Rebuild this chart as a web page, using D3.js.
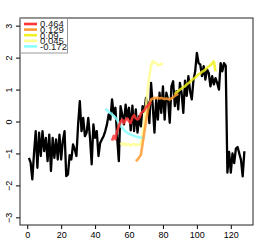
<!DOCTYPE html>
<html>
<head>
<meta charset="utf-8">
<script src="https://cdn.jsdelivr.net/npm/d3@7"></script>
<style>
  body { margin: 0; background: #fff; }
  svg text { font-family: "Liberation Sans", Arial, sans-serif; }
</style>
</head>
<body>
<div id="chart"></div>
<script>
// main series, index 1..128
const mainValues = [
  -1.14, -1.29, -1.81, -1.0, -0.3, -1.45, -0.35, -1.08, -0.3, -0.93,
  -0.51, -1.24, -0.41, -1.55, -0.51, -1.14, -0.56, -1.19, -0.41, -1.19,
  -0.6, -0.3, -1.71, -1.66, -1.05, -1.19, -0.72, -0.87, -1.08, -0.09,
  0.64, -0.3, 0.11, -0.46, -0.35, 0.11, -0.51, -1.34, -0.09, -0.51,
  -0.3, -1.08, -0.67, -0.56, -0.46, -0.3, -0.09, 0.22, 0.06, 0.69,
  0.22, 0.43, -0.51, -1.24, 0.48, 0.22, -0.09, 0.53, 0.11, 0.43,
  -0.28, 0.5, -0.3, 0.38, -0.35, 0.17, -0.15, 0.48, 0.3, 0.74,
  0.6, -0.05, 1.21, 0.48, -0.35, 0.69, 0.06, 0.9, 0.27, 1.1,
  0.06, 0.9, 0.69, -0.04, 1.1, 1.26, 0.48, 0.95, 0.38, 1.21,
  0.9, 0.27, 1.28, 0.8, 1.42, 0.95, 0.69, 1.3, 1.57, 2.15,
  1.83, 1.78, 1.42, 1.73, 1.31, 1.63, 1.52, 1.1, 1.42, 1.16,
  1.36, 1.2, 1.0, 1.83, 1.57, 1.83, 1.75, -1.6, -0.95, -1.6,
  -1.0, -1.3, -0.85, -0.8, -1.0, -1.2, -1.72, -0.93
];

// coloured fits: start index + values
const redStart = 50;
const redValues = [-0.6, -0.45, -0.55, -0.3, -0.15, 0.0, 0.06, -0.05, 0.05, 0.1,
  0.0, -0.05, 0.12, 0.2, 0.1, 0.06, 0.1, 0.25, 0.3, 0.35, 0.45, 0.5, 0.55, 0.6];

const orangeStart = 64;
const orangeValues = [-1.24, -1.2, -1.12, -1.05, -0.7, -0.35, 0.0, 0.32, 0.55, 0.69,
  0.72, 0.74, 0.73, 0.75, 0.72, 0.74, 0.72, 0.7, 0.72, 0.7, 0.69, 0.72, 0.76, 0.8, 0.83, 0.87];

const yellowStart = 87;
const yellowValues = [0.84, 0.92, 0.95, 1.0, 1.03, 1.08, 1.1, 1.16, 1.2, 1.24,
  1.3, 1.34, 1.38, 1.42, 1.48, 1.5, 1.56, 1.58, 1.63, 1.68, 1.72, 1.76, 1.82, 1.88, 1.57];

const lightYellowStart = 55;
const lightYellowValues = [-0.67, -0.72, -0.68, -0.75, -0.7, -0.72, -0.76, -0.72, -0.7, -0.74,
  -0.72, -0.73, -0.72, -0.4, -0.05, 0.5, 1.0, 1.42, 1.75, 1.88, 1.85, 1.82, 1.78, 1.76, 1.8, 1.83];

const cyanStart = 46;
const cyanValues = [0.4, 0.35, 0.3, 0.27, 0.22, 0.17, 0.12, 0.05, -0.05, -0.13,
  -0.2, -0.26, -0.32, -0.35, -0.38, -0.41, -0.43, -0.45, -0.47, -0.48, -0.5, -0.5, -0.51, -0.52];

const legendLabels = ["0.464", "0.129", "0.09", "0.045", "-0.172"];
const legendColors = ["#ff3535", "#ff9a30", "#f0f020", "#ffff90", "#88ffff"];

const xTicks = [0, 20, 40, 60, 80, 100, 120];
const yTicks = [-3, -2, -1, 0, 1, 2, 3];

function drawChart() {
  const W = 273, H = 245;
  const margin = { top: 18, right: 20, bottom: 20, left: 20 };

  const svg = d3.select("#chart").append("svg")
    .attr("width", W).attr("height", H);

  const x = d3.scaleLinear().domain([-4.08, 133.08]).range([margin.left + 0.3, W - margin.right]);
  const y = d3.scaleLinear().domain([-3.24, 3.24]).range([H - margin.bottom, margin.top]);

  const line = d3.line().x(d => x(d[0])).y(d => y(d[1]));
  const toPts = (start, vals) => vals.map((v, i) => [start + i, v]);

  // main black line
  svg.append("path")
    .attr("d", line(toPts(1, mainValues)))
    .attr("fill", "none").attr("stroke", "#000")
    .attr("stroke-width", 2.3).attr("stroke-linejoin", "round");

  const fits = [
    [lightYellowStart, lightYellowValues, legendColors[3]],
    [cyanStart, cyanValues, legendColors[4]],
    [yellowStart, yellowValues, legendColors[2]],
    [orangeStart, orangeValues, legendColors[1]],
    [redStart, redValues, legendColors[0]]
  ];
  fits.forEach(f => {
    svg.append("path")
      .attr("d", line(toPts(f[0], f[1])))
      .attr("fill", "none").attr("stroke", f[2])
      .attr("stroke-width", 2.6).attr("stroke-opacity", 0.85)
      .attr("stroke-linejoin", "round");
  });

  // axes
  const xAxis = svg.append("g")
    .attr("transform", `translate(0,${H - margin.bottom})`)
    .call(d3.axisBottom(x).tickValues(xTicks).tickSize(4).tickPadding(3));
  xAxis.select(".domain").remove();
  xAxis.selectAll("text").attr("font-size", 9).attr("fill", "#000");

  const yAxis = svg.append("g")
    .attr("transform", `translate(${margin.left},0)`)
    .call(d3.axisLeft(y).tickValues(yTicks).tickSize(4).tickFormat(d3.format("d")));
  yAxis.select(".domain").remove();
  yAxis.selectAll("text")
    .attr("font-size", 9).attr("fill", "#000")
    .attr("text-anchor", "middle")
    .attr("x", null).attr("dy", null)
    .attr("transform", "translate(-10,0) rotate(-90)")
    .attr("dominant-baseline", "middle");

  // box
  svg.append("rect")
    .attr("x", margin.left).attr("y", margin.top)
    .attr("width", W - margin.left - margin.right)
    .attr("height", H - margin.top - margin.bottom)
    .attr("fill", "none").attr("stroke", "#222").attr("stroke-width", 1);

  // legend (labels overlap in the original too)
  const lg = svg.append("g");
  lg.append("rect")
    .attr("x", 20.5).attr("y", 18.5).attr("width", 47).attr("height", 34.5)
    .attr("fill", "#fff").attr("stroke", "#999").attr("stroke-width", 1);
  legendLabels.forEach((lab, i) => {
    const ly = 24 + i * 5.6;
    lg.append("line")
      .attr("x1", 24).attr("x2", 37).attr("y1", ly).attr("y2", ly)
      .attr("stroke", legendColors[i]).attr("stroke-width", 2.6);
    lg.append("text")
      .attr("x", 40).attr("y", ly + 3.3)
      .attr("font-size", 9.5).attr("fill", "#222")
      .text(lab);
  });
}

document.addEventListener("DOMContentLoaded", drawChart);
</script>
</body>
</html>
